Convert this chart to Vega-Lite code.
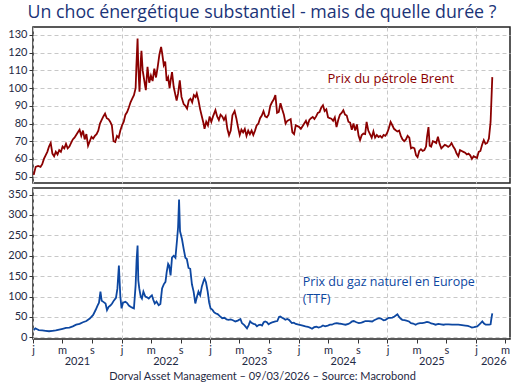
{
  "$schema": "https://vega.github.io/schema/vega-lite/v6.json",
  "background": "white",
  "padding": {"left": 7, "right": 6, "top": 4, "bottom": 2},
  "title": {"text": "Un choc énergétique substantiel - mais de quelle durée ?", "fontSize": 17.8, "font": "Open Sans", "fontWeight": "normal", "color": "#1b3478", "anchor": "middle", "offset": 4, "dx": 3},
  "config": {
    "font": "Lato",
    "view": {"stroke": "#222222", "strokeWidth": 1.5},
    "axis": {"labelFont": "Lato", "labelFontSize": 11, "labelColor": "#1f2a44", "domain": false, "gridColor": "#c8c8c8", "gridDash": [4, 3], "tickColor": "#333333", "tickSize": 4, "labelPadding": 2, "labelFlush": false, "labelOverlap": false}
  },
  "datasets": {
    "brent": [
      {"date": "2021-01-04", "value": 51}, {"date": "2021-01-12", "value": 55.5}, {"date": "2021-01-22", "value": 56}, {"date": "2021-02-01", "value": 55.5}, {"date": "2021-02-08", "value": 57}, {"date": "2021-02-15", "value": 60}, {"date": "2021-02-22", "value": 62}, {"date": "2021-03-01", "value": 64}, {"date": "2021-03-08", "value": 67}, {"date": "2021-03-15", "value": 69}, {"date": "2021-03-22", "value": 63}, {"date": "2021-03-29", "value": 61.5}, {"date": "2021-04-05", "value": 64}, {"date": "2021-04-12", "value": 62.5}, {"date": "2021-04-19", "value": 65}, {"date": "2021-04-26", "value": 64}, {"date": "2021-05-03", "value": 67}, {"date": "2021-05-10", "value": 66}, {"date": "2021-05-17", "value": 68.5}, {"date": "2021-05-24", "value": 66}, {"date": "2021-05-31", "value": 67}, {"date": "2021-06-07", "value": 69}, {"date": "2021-06-14", "value": 71}, {"date": "2021-06-21", "value": 72}, {"date": "2021-06-28", "value": 73.5}, {"date": "2021-07-05", "value": 75}, {"date": "2021-07-12", "value": 76.5}, {"date": "2021-07-19", "value": 73}, {"date": "2021-07-26", "value": 76}, {"date": "2021-08-02", "value": 71}, {"date": "2021-08-09", "value": 74}, {"date": "2021-08-16", "value": 67.5}, {"date": "2021-08-23", "value": 70}, {"date": "2021-08-30", "value": 72.5}, {"date": "2021-09-06", "value": 71.5}, {"date": "2021-09-13", "value": 73}, {"date": "2021-09-20", "value": 74}, {"date": "2021-09-27", "value": 76}, {"date": "2021-10-04", "value": 80}, {"date": "2021-10-11", "value": 82}, {"date": "2021-10-18", "value": 84}, {"date": "2021-10-25", "value": 85.6}, {"date": "2021-11-01", "value": 83}, {"date": "2021-11-08", "value": 82.5}, {"date": "2021-11-15", "value": 81}, {"date": "2021-11-22", "value": 79}, {"date": "2021-11-29", "value": 70}, {"date": "2021-12-06", "value": 69.6}, {"date": "2021-12-13", "value": 73}, {"date": "2021-12-20", "value": 72}, {"date": "2021-12-27", "value": 76},
      {"date": "2022-01-03", "value": 79}, {"date": "2022-01-10", "value": 81}, {"date": "2022-01-17", "value": 85}, {"date": "2022-01-24", "value": 86.5}, {"date": "2022-01-31", "value": 89}, {"date": "2022-02-07", "value": 92}, {"date": "2022-02-14", "value": 94}, {"date": "2022-02-21", "value": 96}, {"date": "2022-02-28", "value": 100}, {"date": "2022-03-03", "value": 112}, {"date": "2022-03-08", "value": 128}, {"date": "2022-03-11", "value": 112}, {"date": "2022-03-16", "value": 98}, {"date": "2022-03-21", "value": 115}, {"date": "2022-03-24", "value": 121}, {"date": "2022-03-29", "value": 110}, {"date": "2022-04-05", "value": 104}, {"date": "2022-04-11", "value": 98.8}, {"date": "2022-04-18", "value": 112}, {"date": "2022-04-25", "value": 103}, {"date": "2022-05-02", "value": 107}, {"date": "2022-05-09", "value": 104}, {"date": "2022-05-16", "value": 111}, {"date": "2022-05-23", "value": 106}, {"date": "2022-05-30", "value": 112}, {"date": "2022-06-06", "value": 119}, {"date": "2022-06-13", "value": 123.2}, {"date": "2022-06-17", "value": 120}, {"date": "2022-06-24", "value": 113}, {"date": "2022-06-30", "value": 115}, {"date": "2022-07-06", "value": 104}, {"date": "2022-07-12", "value": 106}, {"date": "2022-07-18", "value": 100}, {"date": "2022-07-22", "value": 104}, {"date": "2022-07-28", "value": 109}, {"date": "2022-08-04", "value": 100.6}, {"date": "2022-08-11", "value": 96}, {"date": "2022-08-16", "value": 93}, {"date": "2022-08-22", "value": 97}, {"date": "2022-08-29", "value": 104.4}, {"date": "2022-09-05", "value": 95}, {"date": "2022-09-14", "value": 91}, {"date": "2022-09-21", "value": 90}, {"date": "2022-09-28", "value": 88.4}, {"date": "2022-10-05", "value": 93}, {"date": "2022-10-12", "value": 94}, {"date": "2022-10-19", "value": 92}, {"date": "2022-10-26", "value": 96}, {"date": "2022-11-02", "value": 95}, {"date": "2022-11-07", "value": 97}, {"date": "2022-11-14", "value": 93}, {"date": "2022-11-21", "value": 88}, {"date": "2022-11-28", "value": 84}, {"date": "2022-12-05", "value": 80}, {"date": "2022-12-09", "value": 77}, {"date": "2022-12-16", "value": 81}, {"date": "2022-12-23", "value": 79}, {"date": "2022-12-30", "value": 84},
      {"date": "2023-01-06", "value": 81}, {"date": "2023-01-13", "value": 84}, {"date": "2023-01-23", "value": 87.5}, {"date": "2023-01-30", "value": 84}, {"date": "2023-02-06", "value": 82}, {"date": "2023-02-13", "value": 85}, {"date": "2023-02-20", "value": 84}, {"date": "2023-02-27", "value": 82}, {"date": "2023-03-06", "value": 84}, {"date": "2023-03-13", "value": 77}, {"date": "2023-03-20", "value": 73.4}, {"date": "2023-03-27", "value": 76}, {"date": "2023-04-03", "value": 84.7}, {"date": "2023-04-12", "value": 87}, {"date": "2023-04-19", "value": 83}, {"date": "2023-04-26", "value": 78}, {"date": "2023-05-03", "value": 73.5}, {"date": "2023-05-10", "value": 76.5}, {"date": "2023-05-17", "value": 75}, {"date": "2023-05-24", "value": 77}, {"date": "2023-05-31", "value": 73}, {"date": "2023-06-07", "value": 76}, {"date": "2023-06-14", "value": 74}, {"date": "2023-06-21", "value": 76}, {"date": "2023-06-28", "value": 73.5}, {"date": "2023-07-05", "value": 76}, {"date": "2023-07-12", "value": 79}, {"date": "2023-07-19", "value": 80}, {"date": "2023-07-26", "value": 83}, {"date": "2023-08-02", "value": 84.5}, {"date": "2023-08-09", "value": 87}, {"date": "2023-08-16", "value": 84}, {"date": "2023-08-23", "value": 83.5}, {"date": "2023-08-30", "value": 85}, {"date": "2023-09-06", "value": 90}, {"date": "2023-09-13", "value": 92}, {"date": "2023-09-20", "value": 93.5}, {"date": "2023-09-27", "value": 96}, {"date": "2023-10-04", "value": 86}, {"date": "2023-10-11", "value": 86.5}, {"date": "2023-10-18", "value": 91.5}, {"date": "2023-10-25", "value": 88}, {"date": "2023-11-01", "value": 85}, {"date": "2023-11-08", "value": 80}, {"date": "2023-11-15", "value": 81.5}, {"date": "2023-11-22", "value": 82}, {"date": "2023-11-29", "value": 82.5}, {"date": "2023-12-06", "value": 75}, {"date": "2023-12-13", "value": 74}, {"date": "2023-12-20", "value": 79}, {"date": "2023-12-27", "value": 78.5},
      {"date": "2024-01-03", "value": 78}, {"date": "2024-01-10", "value": 77}, {"date": "2024-01-17", "value": 78.5}, {"date": "2024-01-24", "value": 80}, {"date": "2024-01-31", "value": 81.5}, {"date": "2024-02-07", "value": 79}, {"date": "2024-02-14", "value": 82}, {"date": "2024-02-21", "value": 83}, {"date": "2024-02-28", "value": 83.7}, {"date": "2024-03-06", "value": 82.5}, {"date": "2024-03-13", "value": 84}, {"date": "2024-03-20", "value": 86}, {"date": "2024-03-27", "value": 86.5}, {"date": "2024-04-03", "value": 89}, {"date": "2024-04-10", "value": 90.3}, {"date": "2024-04-17", "value": 87}, {"date": "2024-04-24", "value": 88}, {"date": "2024-05-01", "value": 83.5}, {"date": "2024-05-08", "value": 83}, {"date": "2024-05-15", "value": 82.7}, {"date": "2024-05-22", "value": 81.5}, {"date": "2024-05-29", "value": 83.5}, {"date": "2024-06-05", "value": 78}, {"date": "2024-06-12", "value": 82}, {"date": "2024-06-19", "value": 85}, {"date": "2024-06-26", "value": 86}, {"date": "2024-07-03", "value": 87.5}, {"date": "2024-07-10", "value": 85}, {"date": "2024-07-17", "value": 84.5}, {"date": "2024-07-24", "value": 81}, {"date": "2024-07-31", "value": 80.5}, {"date": "2024-08-07", "value": 76.5}, {"date": "2024-08-14", "value": 80}, {"date": "2024-08-21", "value": 76}, {"date": "2024-08-28", "value": 79.5}, {"date": "2024-09-04", "value": 73}, {"date": "2024-09-10", "value": 70.6}, {"date": "2024-09-17", "value": 73.5}, {"date": "2024-09-24", "value": 74.3}, {"date": "2024-10-01", "value": 74}, {"date": "2024-10-07", "value": 80.9}, {"date": "2024-10-14", "value": 76}, {"date": "2024-10-21", "value": 74}, {"date": "2024-10-28", "value": 72}, {"date": "2024-11-04", "value": 75.5}, {"date": "2024-11-11", "value": 72}, {"date": "2024-11-18", "value": 73.5}, {"date": "2024-11-25", "value": 72.4}, {"date": "2024-12-02", "value": 73}, {"date": "2024-12-09", "value": 72}, {"date": "2024-12-16", "value": 73.5}, {"date": "2024-12-23", "value": 73}, {"date": "2024-12-30", "value": 74.5},
      {"date": "2025-01-06", "value": 77}, {"date": "2025-01-14", "value": 80.9}, {"date": "2025-01-21", "value": 79}, {"date": "2025-01-28", "value": 77}, {"date": "2025-02-04", "value": 76.2}, {"date": "2025-02-11", "value": 75.5}, {"date": "2025-02-18", "value": 76}, {"date": "2025-02-25", "value": 73}, {"date": "2025-03-04", "value": 71}, {"date": "2025-03-11", "value": 70}, {"date": "2025-03-18", "value": 71}, {"date": "2025-03-25", "value": 73}, {"date": "2025-04-01", "value": 72}, {"date": "2025-04-08", "value": 66}, {"date": "2025-04-15", "value": 66.5}, {"date": "2025-04-22", "value": 66}, {"date": "2025-04-29", "value": 62}, {"date": "2025-05-05", "value": 61}, {"date": "2025-05-12", "value": 64.5}, {"date": "2025-05-19", "value": 65.5}, {"date": "2025-05-26", "value": 64.5}, {"date": "2025-06-02", "value": 65}, {"date": "2025-06-09", "value": 67}, {"date": "2025-06-13", "value": 72.5}, {"date": "2025-06-19", "value": 78}, {"date": "2025-06-24", "value": 67.5}, {"date": "2025-06-30", "value": 67}, {"date": "2025-07-07", "value": 70}, {"date": "2025-07-14", "value": 69.6}, {"date": "2025-07-21", "value": 69}, {"date": "2025-07-28", "value": 72.5}, {"date": "2025-08-04", "value": 68.5}, {"date": "2025-08-11", "value": 66}, {"date": "2025-08-18", "value": 67}, {"date": "2025-08-25", "value": 68}, {"date": "2025-09-01", "value": 67.5}, {"date": "2025-09-08", "value": 66.8}, {"date": "2025-09-15", "value": 67.5}, {"date": "2025-09-22", "value": 69}, {"date": "2025-09-29", "value": 67}, {"date": "2025-10-06", "value": 65.5}, {"date": "2025-10-13", "value": 63}, {"date": "2025-10-20", "value": 61.5}, {"date": "2025-10-27", "value": 65}, {"date": "2025-11-03", "value": 64.5}, {"date": "2025-11-10", "value": 64}, {"date": "2025-11-17", "value": 63.5}, {"date": "2025-11-24", "value": 62.5}, {"date": "2025-12-01", "value": 63}, {"date": "2025-12-08", "value": 62}, {"date": "2025-12-15", "value": 60}, {"date": "2025-12-22", "value": 61.5}, {"date": "2025-12-29", "value": 61},
      {"date": "2026-01-05", "value": 60.5}, {"date": "2026-01-12", "value": 64}, {"date": "2026-01-19", "value": 64.5}, {"date": "2026-01-26", "value": 68}, {"date": "2026-02-02", "value": 70.6}, {"date": "2026-02-09", "value": 68.5}, {"date": "2026-02-16", "value": 69}, {"date": "2026-02-23", "value": 71.5}, {"date": "2026-03-02", "value": 80.9}, {"date": "2026-03-09", "value": 106.2}
    ],
    "gas": [
      {"date": "2021-01-04", "value": 18}, {"date": "2021-01-11", "value": 22}, {"date": "2021-01-18", "value": 20}, {"date": "2021-01-25", "value": 18}, {"date": "2021-02-08", "value": 17}, {"date": "2021-02-22", "value": 16}, {"date": "2021-03-08", "value": 15}, {"date": "2021-03-22", "value": 16}, {"date": "2021-04-05", "value": 17}, {"date": "2021-04-19", "value": 19}, {"date": "2021-05-03", "value": 21}, {"date": "2021-05-17", "value": 23}, {"date": "2021-05-31", "value": 24}, {"date": "2021-06-14", "value": 27}, {"date": "2021-06-28", "value": 31}, {"date": "2021-07-12", "value": 33}, {"date": "2021-07-26", "value": 37}, {"date": "2021-08-09", "value": 40}, {"date": "2021-08-23", "value": 46}, {"date": "2021-09-06", "value": 55}, {"date": "2021-09-16", "value": 67}, {"date": "2021-09-24", "value": 78}, {"date": "2021-09-30", "value": 85}, {"date": "2021-10-06", "value": 112}, {"date": "2021-10-11", "value": 90}, {"date": "2021-10-18", "value": 87}, {"date": "2021-10-27", "value": 83}, {"date": "2021-11-02", "value": 67}, {"date": "2021-11-09", "value": 75}, {"date": "2021-11-16", "value": 78}, {"date": "2021-11-23", "value": 83}, {"date": "2021-11-30", "value": 90}, {"date": "2021-12-09", "value": 97}, {"date": "2021-12-15", "value": 120}, {"date": "2021-12-21", "value": 176}, {"date": "2021-12-27", "value": 100},
      {"date": "2022-01-01", "value": 71}, {"date": "2022-01-07", "value": 85}, {"date": "2022-01-17", "value": 87}, {"date": "2022-01-24", "value": 84}, {"date": "2022-01-31", "value": 78}, {"date": "2022-02-07", "value": 75}, {"date": "2022-02-14", "value": 73}, {"date": "2022-02-21", "value": 71}, {"date": "2022-02-28", "value": 128}, {"date": "2022-03-04", "value": 190}, {"date": "2022-03-08", "value": 225}, {"date": "2022-03-11", "value": 140}, {"date": "2022-03-15", "value": 120}, {"date": "2022-03-21", "value": 100}, {"date": "2022-03-26", "value": 95}, {"date": "2022-04-01", "value": 112}, {"date": "2022-04-09", "value": 100}, {"date": "2022-04-16", "value": 98}, {"date": "2022-04-23", "value": 95}, {"date": "2022-04-30", "value": 100}, {"date": "2022-05-06", "value": 103}, {"date": "2022-05-12", "value": 92}, {"date": "2022-05-18", "value": 83}, {"date": "2022-05-25", "value": 88}, {"date": "2022-06-03", "value": 79}, {"date": "2022-06-10", "value": 82}, {"date": "2022-06-17", "value": 120}, {"date": "2022-06-24", "value": 130}, {"date": "2022-07-01", "value": 136}, {"date": "2022-07-06", "value": 160}, {"date": "2022-07-12", "value": 180}, {"date": "2022-07-16", "value": 176}, {"date": "2022-07-22", "value": 152}, {"date": "2022-07-28", "value": 196}, {"date": "2022-08-04", "value": 200}, {"date": "2022-08-11", "value": 195}, {"date": "2022-08-18", "value": 241}, {"date": "2022-08-22", "value": 270}, {"date": "2022-08-26", "value": 338}, {"date": "2022-08-30", "value": 260}, {"date": "2022-09-07", "value": 241}, {"date": "2022-09-14", "value": 217}, {"date": "2022-09-21", "value": 195}, {"date": "2022-09-27", "value": 192}, {"date": "2022-10-04", "value": 170}, {"date": "2022-10-11", "value": 168}, {"date": "2022-10-18", "value": 130}, {"date": "2022-10-25", "value": 112}, {"date": "2022-11-01", "value": 83}, {"date": "2022-11-08", "value": 100}, {"date": "2022-11-14", "value": 112}, {"date": "2022-11-21", "value": 103}, {"date": "2022-11-28", "value": 125}, {"date": "2022-12-06", "value": 140}, {"date": "2022-12-09", "value": 144}, {"date": "2022-12-15", "value": 135}, {"date": "2022-12-22", "value": 112}, {"date": "2022-12-28", "value": 85},
      {"date": "2023-01-03", "value": 71}, {"date": "2023-01-10", "value": 68}, {"date": "2023-01-17", "value": 62}, {"date": "2023-01-23", "value": 59}, {"date": "2023-02-01", "value": 57}, {"date": "2023-02-10", "value": 52}, {"date": "2023-02-20", "value": 47}, {"date": "2023-03-01", "value": 48}, {"date": "2023-03-10", "value": 44}, {"date": "2023-03-18", "value": 43}, {"date": "2023-03-27", "value": 44}, {"date": "2023-04-05", "value": 42}, {"date": "2023-04-15", "value": 39}, {"date": "2023-04-25", "value": 41}, {"date": "2023-05-06", "value": 45}, {"date": "2023-05-12", "value": 35}, {"date": "2023-05-22", "value": 30}, {"date": "2023-06-02", "value": 22}, {"date": "2023-06-09", "value": 30}, {"date": "2023-06-15", "value": 39}, {"date": "2023-06-22", "value": 35}, {"date": "2023-06-29", "value": 33}, {"date": "2023-07-06", "value": 32}, {"date": "2023-07-13", "value": 27}, {"date": "2023-07-20", "value": 30}, {"date": "2023-07-27", "value": 31}, {"date": "2023-08-03", "value": 29}, {"date": "2023-08-10", "value": 37}, {"date": "2023-08-16", "value": 39}, {"date": "2023-08-23", "value": 37}, {"date": "2023-08-30", "value": 32}, {"date": "2023-09-07", "value": 35}, {"date": "2023-09-14", "value": 37}, {"date": "2023-09-27", "value": 39}, {"date": "2023-10-05", "value": 40}, {"date": "2023-10-12", "value": 50}, {"date": "2023-10-17", "value": 51}, {"date": "2023-10-25", "value": 48}, {"date": "2023-11-01", "value": 46}, {"date": "2023-11-07", "value": 43}, {"date": "2023-11-15", "value": 45}, {"date": "2023-11-22", "value": 43}, {"date": "2023-12-04", "value": 35}, {"date": "2023-12-12", "value": 36}, {"date": "2023-12-20", "value": 33},
      {"date": "2024-01-01", "value": 31}, {"date": "2024-01-10", "value": 30}, {"date": "2024-01-18", "value": 29}, {"date": "2024-01-29", "value": 27}, {"date": "2024-02-08", "value": 26}, {"date": "2024-02-16", "value": 24}, {"date": "2024-02-25", "value": 21}, {"date": "2024-03-05", "value": 25}, {"date": "2024-03-14", "value": 26}, {"date": "2024-03-23", "value": 24}, {"date": "2024-04-02", "value": 26}, {"date": "2024-04-10", "value": 29}, {"date": "2024-04-19", "value": 27}, {"date": "2024-04-30", "value": 29}, {"date": "2024-05-09", "value": 31}, {"date": "2024-05-17", "value": 31}, {"date": "2024-05-27", "value": 34}, {"date": "2024-06-05", "value": 35}, {"date": "2024-06-14", "value": 34}, {"date": "2024-06-25", "value": 33}, {"date": "2024-07-04", "value": 32}, {"date": "2024-07-12", "value": 31}, {"date": "2024-07-24", "value": 33}, {"date": "2024-08-01", "value": 36}, {"date": "2024-08-08", "value": 39}, {"date": "2024-08-15", "value": 40}, {"date": "2024-08-26", "value": 37}, {"date": "2024-09-05", "value": 35}, {"date": "2024-09-16", "value": 36}, {"date": "2024-09-24", "value": 38}, {"date": "2024-10-02", "value": 40}, {"date": "2024-10-14", "value": 40}, {"date": "2024-10-30", "value": 39}, {"date": "2024-11-07", "value": 42}, {"date": "2024-11-18", "value": 45}, {"date": "2024-11-27", "value": 47}, {"date": "2024-12-05", "value": 46}, {"date": "2024-12-16", "value": 42}, {"date": "2024-12-24", "value": 43},
      {"date": "2025-01-06", "value": 48}, {"date": "2025-01-14", "value": 48}, {"date": "2025-01-21", "value": 48.5}, {"date": "2025-01-30", "value": 51}, {"date": "2025-02-11", "value": 56.6}, {"date": "2025-02-18", "value": 50}, {"date": "2025-02-24", "value": 46}, {"date": "2025-03-03", "value": 43}, {"date": "2025-03-12", "value": 42}, {"date": "2025-03-20", "value": 41}, {"date": "2025-03-31", "value": 39}, {"date": "2025-04-08", "value": 35}, {"date": "2025-04-17", "value": 34}, {"date": "2025-04-27", "value": 31}, {"date": "2025-05-06", "value": 34}, {"date": "2025-05-15", "value": 35}, {"date": "2025-05-24", "value": 35}, {"date": "2025-06-03", "value": 36}, {"date": "2025-06-13", "value": 38}, {"date": "2025-06-21", "value": 37}, {"date": "2025-06-30", "value": 34}, {"date": "2025-07-09", "value": 33}, {"date": "2025-07-18", "value": 31}, {"date": "2025-07-30", "value": 33}, {"date": "2025-08-10", "value": 32}, {"date": "2025-08-20", "value": 31}, {"date": "2025-08-28", "value": 32}, {"date": "2025-09-10", "value": 32}, {"date": "2025-09-24", "value": 31}, {"date": "2025-10-09", "value": 31}, {"date": "2025-10-20", "value": 31}, {"date": "2025-11-04", "value": 30}, {"date": "2025-11-18", "value": 29}, {"date": "2025-11-28", "value": 28}, {"date": "2025-12-08", "value": 26}, {"date": "2025-12-15", "value": 24}, {"date": "2025-12-24", "value": 25},
      {"date": "2026-01-06", "value": 27}, {"date": "2026-01-15", "value": 32}, {"date": "2026-01-22", "value": 36}, {"date": "2026-01-27", "value": 39}, {"date": "2026-02-03", "value": 34}, {"date": "2026-02-10", "value": 31}, {"date": "2026-02-17", "value": 31}, {"date": "2026-02-24", "value": 31}, {"date": "2026-03-02", "value": 32}, {"date": "2026-03-05", "value": 45}, {"date": "2026-03-09", "value": 59}
    ]
  },
  "spacing": 3,
  "vconcat": [
    {
      "width": 477,
      "height": 156,
      "layer": [
        {
          "data": {"name": "brent"},
          "mark": {"type": "line", "color": "#8b0000", "strokeWidth": 1.8},
          "encoding": {
            "x": {"field": "date", "type": "temporal",
              "scale": {"domain": [{"year": 2021, "month": 1, "date": 1}, {"year": 2026, "month": 5, "date": 21}]},
              "axis": {"title": null, "labels": false, "ticks": false, "grid": true, "tickCount": 50,
                "values": [{"year": 2021, "month": 1, "date": 1}, {"year": 2022, "month": 1, "date": 1}, {"year": 2023, "month": 1, "date": 1}, {"year": 2024, "month": 1, "date": 1}, {"year": 2025, "month": 1, "date": 1}, {"year": 2026, "month": 1, "date": 1}]}},
            "y": {"field": "value", "type": "quantitative",
              "scale": {"domain": [46.4, 134.5], "nice": false, "zero": false},
              "axis": {"title": null, "tickCount": 50, "labelOverlap": false, "values": [50, 60, 70, 80, 90, 100, 110, 120, 130]}}
          }
        },
        {
          "data": {"values": [{"date": "2024-04-29", "value": 105.2, "label": "Prix du pétrole Brent"}]},
          "mark": {"type": "text", "align": "left", "baseline": "middle", "color": "#8b0000", "fontSize": 13, "font": "Open Sans"},
          "encoding": {
            "x": {"field": "date", "type": "temporal"},
            "y": {"field": "value", "type": "quantitative"},
            "text": {"field": "label"}
          }
        }
      ]
    },
    {
      "width": 477,
      "height": 151,
      "title": {"text": "Dorval Asset Management – 09/03/2026  –   Source: Macrobond", "orient": "bottom", "anchor": "middle", "fontSize": 11, "fontWeight": "normal", "font": "Lato", "color": "#1f2a44", "offset": 5, "dx": -9},
      "layer": [
        {
          "data": {"name": "gas"},
          "mark": {"type": "line", "color": "#0d47a1", "strokeWidth": 1.8},
          "encoding": {
            "x": {"field": "date", "type": "temporal",
              "scale": {"domain": [{"year": 2021, "month": 1, "date": 1}, {"year": 2026, "month": 5, "date": 21}]},
              "axis": {"title": null, "grid": true, "labelLineHeight": 11, "labelBaseline": "top", "labelPadding": 1, "tickCount": 50, "labelOverlap": false,
                "values": [
                  {"year": 2021, "month": 1, "date": 1}, {"year": 2021, "month": 5, "date": 1}, {"year": 2021, "month": 7, "date": 1}, {"year": 2021, "month": 9, "date": 1},
                  {"year": 2022, "month": 1, "date": 1}, {"year": 2022, "month": 5, "date": 1}, {"year": 2022, "month": 7, "date": 1}, {"year": 2022, "month": 9, "date": 1},
                  {"year": 2023, "month": 1, "date": 1}, {"year": 2023, "month": 5, "date": 1}, {"year": 2023, "month": 7, "date": 1}, {"year": 2023, "month": 9, "date": 1},
                  {"year": 2024, "month": 1, "date": 1}, {"year": 2024, "month": 5, "date": 1}, {"year": 2024, "month": 7, "date": 1}, {"year": 2024, "month": 9, "date": 1},
                  {"year": 2025, "month": 1, "date": 1}, {"year": 2025, "month": 5, "date": 1}, {"year": 2025, "month": 7, "date": 1}, {"year": 2025, "month": 9, "date": 1},
                  {"year": 2026, "month": 1, "date": 1}, {"year": 2026, "month": 3, "date": 13}, {"year": 2026, "month": 5, "date": 1}],
                "labelExpr": "(month(datum.value) == 6 || month(datum.value) == 2) ? ['', '' + year(datum.value)] : (month(datum.value) == 0 ? 'j' : (month(datum.value) == 4 ? 'm' : 's'))",
                "tickOpacity": {"condition": {"test": "month(datum.value) == 6 || month(datum.value) == 2", "value": 0}, "value": 1},
                "gridOpacity": {"condition": {"test": "month(datum.value) == 0", "value": 1}, "value": 0}}},
            "y": {"field": "value", "type": "quantitative",
              "scale": {"domain": [-4, 366], "nice": false, "zero": false},
              "axis": {"title": null, "tickCount": 50, "labelOverlap": false, "values": [0, 50, 100, 150, 200, 250, 300, 350]}}
          }
        },
        {
          "data": {"values": [{"date": "2024-01-18", "value": 135.4, "label": "Prix du gaz naturel en Europe"}, {"date": "2024-01-18", "value": 94.2, "label": "(TTF)"}]},
          "mark": {"type": "text", "align": "left", "baseline": "middle", "color": "#0d47a1", "fontSize": 12.5, "font": "Open Sans"},
          "encoding": {
            "x": {"field": "date", "type": "temporal"},
            "y": {"field": "value", "type": "quantitative"},
            "text": {"field": "label"}
          }
        }
      ]
    }
  ]
}
